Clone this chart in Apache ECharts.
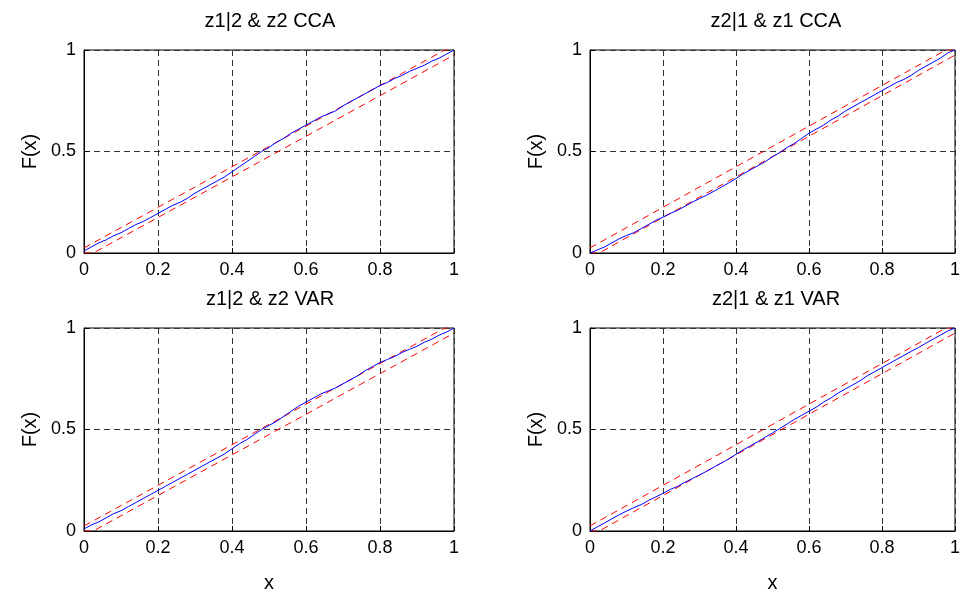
<!DOCTYPE html>
<html>
<head>
<meta charset="utf-8">
<script src="https://cdn.jsdelivr.net/npm/echarts@6/dist/echarts.min.js"></script>
<style>html,body{margin:0;padding:0;background:#fff}#c{width:963px;height:599px}</style>
</head>
<body>
<div id="c"></div>
<script>
var xs = [0,0.02,0.04,0.06,0.08,0.10,0.12,0.14,0.16,0.18,0.20,0.22,0.24,0.26,0.28,0.30,0.32,0.34,0.36,0.38,0.40,0.42,0.44,0.46,0.48,0.50,0.52,0.54,0.56,0.58,0.60,0.62,0.64,0.66,0.68,0.70,0.72,0.74,0.76,0.78,0.80,0.82,0.84,0.86,0.88,0.90,0.92,0.94,0.96,0.98,1.00];
var cdfZ12CCA = [0.01,0.03,0.05,0.065,0.085,0.10,0.12,0.14,0.155,0.175,0.195,0.215,0.235,0.25,0.27,0.295,0.315,0.335,0.355,0.375,0.40,0.425,0.45,0.475,0.50,0.52,0.545,0.565,0.59,0.61,0.63,0.65,0.67,0.685,0.70,0.725,0.745,0.765,0.785,0.805,0.825,0.84,0.86,0.875,0.895,0.91,0.925,0.945,0.96,0.98,1.0];
var cdfZ21CCA = [0.0,0.015,0.03,0.05,0.07,0.086,0.10,0.12,0.14,0.16,0.177,0.195,0.21,0.23,0.25,0.268,0.285,0.305,0.325,0.345,0.367,0.39,0.41,0.43,0.45,0.474,0.495,0.52,0.54,0.565,0.59,0.61,0.63,0.655,0.675,0.70,0.72,0.74,0.76,0.78,0.80,0.82,0.84,0.855,0.875,0.90,0.92,0.94,0.96,0.985,1.0];
var cdfZ12VAR = [0.01,0.03,0.045,0.065,0.085,0.10,0.12,0.14,0.16,0.18,0.20,0.22,0.24,0.26,0.28,0.30,0.32,0.34,0.36,0.38,0.405,0.43,0.45,0.475,0.50,0.52,0.54,0.565,0.59,0.615,0.635,0.655,0.675,0.69,0.705,0.725,0.745,0.765,0.79,0.81,0.83,0.845,0.86,0.88,0.895,0.91,0.93,0.945,0.965,0.98,1.0];
var cdfZ21VAR = [0.0,0.02,0.04,0.06,0.08,0.098,0.115,0.13,0.15,0.168,0.185,0.205,0.22,0.24,0.258,0.276,0.295,0.315,0.335,0.355,0.378,0.40,0.42,0.44,0.462,0.483,0.505,0.527,0.55,0.57,0.59,0.61,0.635,0.655,0.68,0.70,0.72,0.74,0.765,0.785,0.805,0.825,0.845,0.865,0.885,0.904,0.925,0.945,0.965,0.985,1.0];
var upperBandX = [0, 0.975, 1];
var upperBandY = [0.025, 1, 1];
var lowerBandX = [0, 0.025, 1];
var lowerBandY = [0, 0, 0.975];
var titles = ['z1|2 & z2 CCA', 'z2|1 & z1 CCA', 'z1|2 & z2 VAR', 'z2|1 & z1 VAR'];
var panelData = [cdfZ12CCA, cdfZ21CCA, cdfZ12VAR, cdfZ21VAR];
var xTicks = [0, 0.2, 0.4, 0.6, 0.8, 1];
var yTicks = [0, 0.5, 1];

function pairs(a, b) { return a.map(function (v, i) { return [v, b[i]]; }); }

var FONT = 'Liberation Sans, Arial, sans-serif';
var lefts = [84, 590, 84, 590];
var tops = [50, 50, 328, 328];
var W = 370, H = 203;

var grids = [], xAxes = [], yAxes = [], series = [], titleComps = [];
for (var i = 0; i < 4; i++) {
  grids.push({ left: lefts[i], top: tops[i], width: W, height: H, show: true, borderColor: '#000', borderWidth: 1, backgroundColor: '#fff' });
  var bottomRow = i >= 2;
  xAxes.push({
    gridIndex: i, type: 'value', min: 0, max: 1, interval: 0.2,
    name: bottomRow ? 'x' : '', nameLocation: 'middle', nameGap: 42,
    nameTextStyle: { fontFamily: FONT, fontSize: 20, color: '#000' },
    axisLine: { show: true, onZero: false, lineStyle: { color: '#000', width: 1 } },
    axisTick: { show: true, inside: true, length: 5, lineStyle: { color: '#000' } },
    axisLabel: { fontFamily: FONT, fontSize: 18, color: '#000', margin: 8, formatter: function (v) { return String(+v.toFixed(1)); } },
    splitLine: { show: true, lineStyle: { color: '#333', type: [6, 4], width: 1 } }
  });
  yAxes.push({
    gridIndex: i, type: 'value', min: 0, max: 1, interval: 0.5,
    name: 'F(x)', nameLocation: 'middle', nameGap: 44, nameRotate: 90,
    nameTextStyle: { fontFamily: FONT, fontSize: 20, color: '#000' },
    axisLine: { show: true, onZero: false, lineStyle: { color: '#000', width: 1 } },
    axisTick: { show: true, inside: true, length: 5, lineStyle: { color: '#000' } },
    axisLabel: { fontFamily: FONT, fontSize: 18, color: '#000', margin: 8, formatter: function (v) { return String(v); } },
    splitLine: { show: true, lineStyle: { color: '#333', type: [6, 4], width: 1 } }
  });
  titleComps.push({
    text: titles[i], left: lefts[i] + W / 2 - 4, top: tops[i] - 44, textAlign: 'center',
    textStyle: { fontFamily: FONT, fontSize: 20, fontWeight: 'normal', color: '#000' }
  });
  series.push({
    type: 'line', xAxisIndex: i, yAxisIndex: i, data: pairs(xs, panelData[i]),
    showSymbol: false, symbol: 'none', lineStyle: { color: '#0000ff', width: 1 }, z: 3, animation: false
  });
  series.push({
    type: 'line', xAxisIndex: i, yAxisIndex: i, data: pairs(upperBandX, upperBandY),
    showSymbol: false, symbol: 'none', lineStyle: { color: '#ff0000', width: 1, type: [7, 5] }, z: 2, animation: false
  });
  series.push({
    type: 'line', xAxisIndex: i, yAxisIndex: i, data: pairs(lowerBandX, lowerBandY),
    showSymbol: false, symbol: 'none', lineStyle: { color: '#ff0000', width: 1, type: [7, 5] }, z: 2, animation: false
  });
}

var chart = echarts.init(document.getElementById('c'), null, { renderer: 'canvas' });
chart.setOption({
  animation: false,
  backgroundColor: '#fff',
  title: titleComps,
  grid: grids,
  xAxis: xAxes,
  yAxis: yAxes,
  series: series
});
</script>
</body>
</html>
